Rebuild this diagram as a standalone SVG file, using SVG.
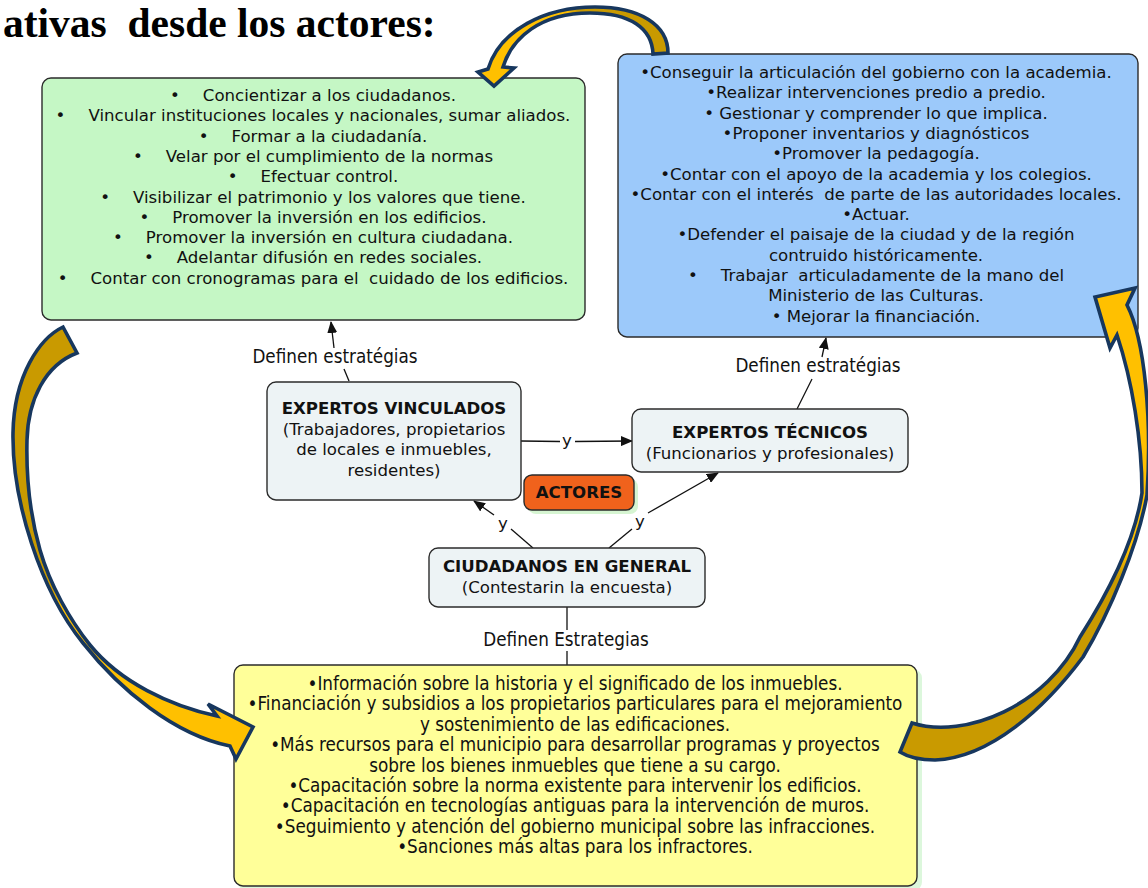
<svg xmlns="http://www.w3.org/2000/svg" width="1148" height="888" viewBox="0 0 1148 888">
<defs>
<style>
.t{font-family:"DejaVu Sans",Verdana,sans-serif;font-size:16.6px;fill:#111}
.cd{font-family:"DejaVu Sans Condensed","DejaVu Sans",sans-serif;font-size:18.7px;fill:#111}
.m{text-anchor:middle}
.b{font-weight:bold}
.box{stroke:#2b2b2b;stroke-width:1.4}
.node{fill:#edf3f5}
.ln{fill:none;stroke:#111;stroke-width:1.3}
.big{stroke:#17375e;stroke-width:3.6;stroke-linejoin:miter}
</style>
<marker id="ah" viewBox="0 0 12 10" refX="11" refY="5" markerWidth="12" markerHeight="10" markerUnits="userSpaceOnUse" orient="auto">
<path d="M0,0 L12,5 L0,10 z" fill="#111"/>
</marker>
<linearGradient id="gTop" gradientUnits="userSpaceOnUse" x1="478" y1="0" x2="668" y2="0">
<stop offset="0" stop-color="#ffc000"/><stop offset="0.47" stop-color="#ffc000"/><stop offset="0.52" stop-color="#c99a00"/><stop offset="1" stop-color="#c99a00"/>
</linearGradient>
<linearGradient id="gLeft" gradientUnits="userSpaceOnUse" x1="0" y1="327" x2="0" y2="760">
<stop offset="0" stop-color="#c99a00"/><stop offset="0.6" stop-color="#c99a00"/><stop offset="0.65" stop-color="#ffc000"/><stop offset="1" stop-color="#ffc000"/>
</linearGradient>
<linearGradient id="gRight" gradientUnits="userSpaceOnUse" x1="0" y1="290" x2="0" y2="760">
<stop offset="0" stop-color="#ffc000"/><stop offset="0.56" stop-color="#ffc000"/><stop offset="0.61" stop-color="#c99a00"/><stop offset="1" stop-color="#c99a00"/>
</linearGradient>
</defs>
<rect width="1148" height="888" fill="#ffffff"/>

<text x="3" y="37" xml:space="preserve" style="font-family:'Liberation Serif','Times New Roman',serif;font-size:41.5px;font-weight:bold;fill:#000">ativas  desde los actores:</text>

<g id="connectors">
<line class="ln" x1="349" y1="381" x2="344" y2="369"/>
<line class="ln" x1="334" y1="348" x2="331" y2="322" marker-end="url(#ah)"/>
<text class="cd m" x="335" y="363">Definen estratégias</text>
<line class="ln" x1="797" y1="409" x2="812" y2="379"/>
<line class="ln" x1="822" y1="357" x2="826" y2="338" marker-end="url(#ah)"/>
<text class="cd m" x="818" y="372">Definen estratégias</text>
<line class="ln" x1="521" y1="441" x2="560" y2="441.5"/>
<line class="ln" x1="575" y1="441.5" x2="632" y2="441" marker-end="url(#ah)"/>
<text class="t m" x="567" y="446">y</text>
<line class="ln" x1="533" y1="548" x2="511" y2="529"/>
<line class="ln" x1="494" y1="515" x2="474" y2="501" marker-end="url(#ah)"/>
<text class="t m" x="503" y="529">y</text>
<line class="ln" x1="609" y1="548" x2="632" y2="529"/>
<line class="ln" x1="648" y1="513" x2="718" y2="473" marker-end="url(#ah)"/>
<text class="t m" x="640" y="527">y</text>
<line class="ln" x1="567" y1="607" x2="567" y2="630"/>
<line class="ln" x1="567" y1="651" x2="567" y2="665"/>
<text class="cd m" x="566" y="646">Definen Estrategias</text>
</g>

<g id="green-box">
<rect class="box" x="42" y="78" width="543" height="242" rx="9" fill="#c5f7c5"/>
<text class="t m" x="313" y="101">•<tspan dx="23">Concientizar a los ciudadanos.</tspan></text>
<text class="t m" x="313" y="121.3">•<tspan dx="23">Vincular instituciones locales y nacionales, sumar aliados.</tspan></text>
<text class="t m" x="313" y="141.6">•<tspan dx="23">Formar a la ciudadanía.</tspan></text>
<text class="t m" x="313" y="161.9">•<tspan dx="23">Velar por el cumplimiento de la normas</tspan></text>
<text class="t m" x="313" y="182.2">•<tspan dx="23">Efectuar control.</tspan></text>
<text class="t m" x="313" y="202.5">•<tspan dx="23">Visibilizar el patrimonio y los valores que tiene.</tspan></text>
<text class="t m" x="313" y="222.8">•<tspan dx="23">Promover la inversión en los edificios.</tspan></text>
<text class="t m" x="313" y="243.1">•<tspan dx="23">Promover la inversión en cultura ciudadana.</tspan></text>
<text class="t m" x="313" y="263.4">•<tspan dx="23">Adelantar difusión en redes sociales.</tspan></text>
<text class="t m" x="313" y="283.7">•<tspan dx="23">Contar con cronogramas para el&#160; cuidado de los edificios.</tspan></text>
</g>

<g id="blue-box">
<rect class="box" x="618" y="54" width="520" height="283" rx="9" fill="#9cc9fa"/>
<text class="t m" x="876" y="78">•Conseguir la articulación del gobierno con la academia.</text>
<text class="t m" x="876" y="98.3">•Realizar intervenciones predio a predio.</text>
<text class="t m" x="876" y="118.6">• Gestionar y comprender lo que implica.</text>
<text class="t m" x="876" y="138.9">•Proponer inventarios y diagnósticos</text>
<text class="t m" x="876" y="159.2">•Promover la pedagogía.</text>
<text class="t m" x="876" y="179.5">•Contar con el apoyo de la academia y los colegios.</text>
<text class="t m" x="876" y="199.8">•Contar con el interés&#160; de parte de las autoridades locales.</text>
<text class="t m" x="876" y="220.1">•Actuar.</text>
<text class="t m" x="876" y="240.4">•Defender el paisaje de la ciudad y de la región</text>
<text class="t m" x="876" y="260.7">contruido históricamente.</text>
<text class="t m" x="876" y="281">•<tspan dx="23">Trabajar&#160; articuladamente de la mano del</tspan></text>
<text class="t m" x="876" y="301.3">Ministerio de las Culturas.</text>
<text class="t m" x="876" y="321.6">• Mejorar la financiación.</text>
</g>

<g id="expertos-vinculados">
<rect class="box node" x="267" y="382" width="254" height="118" rx="9"/>
<text class="t m b" x="394" y="414">EXPERTOS VINCULADOS</text>
<text class="t m" x="394" y="435">(Trabajadores, propietarios</text>
<text class="t m" x="394" y="455">de locales e inmuebles,</text>
<text class="t m" x="394" y="476">residentes)</text>
</g>

<g id="expertos-tecnicos">
<rect class="box node" x="632" y="409" width="276" height="63" rx="9"/>
<text class="t m b" x="770" y="438">EXPERTOS TÉCNICOS</text>
<text class="t m" x="770" y="459">(Funcionarios y profesionales)</text>
</g>

<g id="actores">
<rect x="528" y="479" width="110" height="35" rx="8" fill="#d6f5d2"/>
<rect class="box" x="524" y="475" width="110" height="35" rx="8" fill="#f0621c"/>
<text class="t m b" x="579" y="498">ACTORES</text>
</g>

<g id="ciudadanos">
<rect class="box node" x="429" y="548" width="276" height="59" rx="9"/>
<text class="t m b" x="567" y="572">CIUDADANOS EN GENERAL</text>
<text class="t m" x="567" y="593">(Contestarin la encuesta)</text>
</g>

<g id="yellow-box">
<rect x="238" y="669" width="684" height="222" rx="9" fill="#dcf7dc"/>
<rect class="box" x="234" y="665" width="683" height="221" rx="9" fill="#ffff99"/>
<text class="cd m" x="575" y="690">•Información sobre la historia y el significado de los inmuebles.</text>
<text class="cd m" x="575" y="710.4">•Financiación y subsidios a los propietarios particulares para el mejoramiento</text>
<text class="cd m" x="575" y="730.8">y sostenimiento de las edificaciones.</text>
<text class="cd m" x="575" y="751.2">•Más recursos para el municipio para desarrollar programas y proyectos</text>
<text class="cd m" x="575" y="771.6">sobre los bienes inmuebles que tiene a su cargo.</text>
<text class="cd m" x="575" y="792">•Capacitación sobre la norma existente para intervenir los edificios.</text>
<text class="cd m" x="575" y="812.4">•Capacitación en tecnologías antiguas para la intervención de muros.</text>
<text class="cd m" x="575" y="832.8">•Seguimiento y atención del gobierno municipal sobre las infracciones.</text>
<text class="cd m" x="575" y="853.2">•Sanciones más altas para los infractores.</text>
</g>

<g id="curved-arrows">
<path class="big" fill="url(#gTop)" d="M668,53 C668,25 640,7 595,7 C545,7 500,30 488,69 L478,72 L494,86 L514,68 L503,67 C512,38 540,13 590,13 C630,13 652,28 653,54 Z"/>
<path class="big" fill="url(#gLeft)" d="M63,327 C40,338 14,375 13,433 C12,500 40,590 83,643 C120,690 175,735 230,746 L236,759 L253,727 L208,704 L217,716 C170,706 120,682 90,645 C70,620 50,585 40,550 C30,515 26,480 27,440 C28,400 45,365 77,353 Z"/>
<path class="big" fill="url(#gRight)" d="M912,723 C965,740 1048,705 1080,637 C1110,590 1135,540 1142,493 C1142,440 1132,380 1117,335 L1110,348 L1095,297 L1135,288 L1127,305 C1145,340 1152,420 1147,495 C1138,545 1110,612 1083,657 C1045,708 990,758 935,760 C920,760 908,757 900,752 Z"/>
</g>
</svg>
